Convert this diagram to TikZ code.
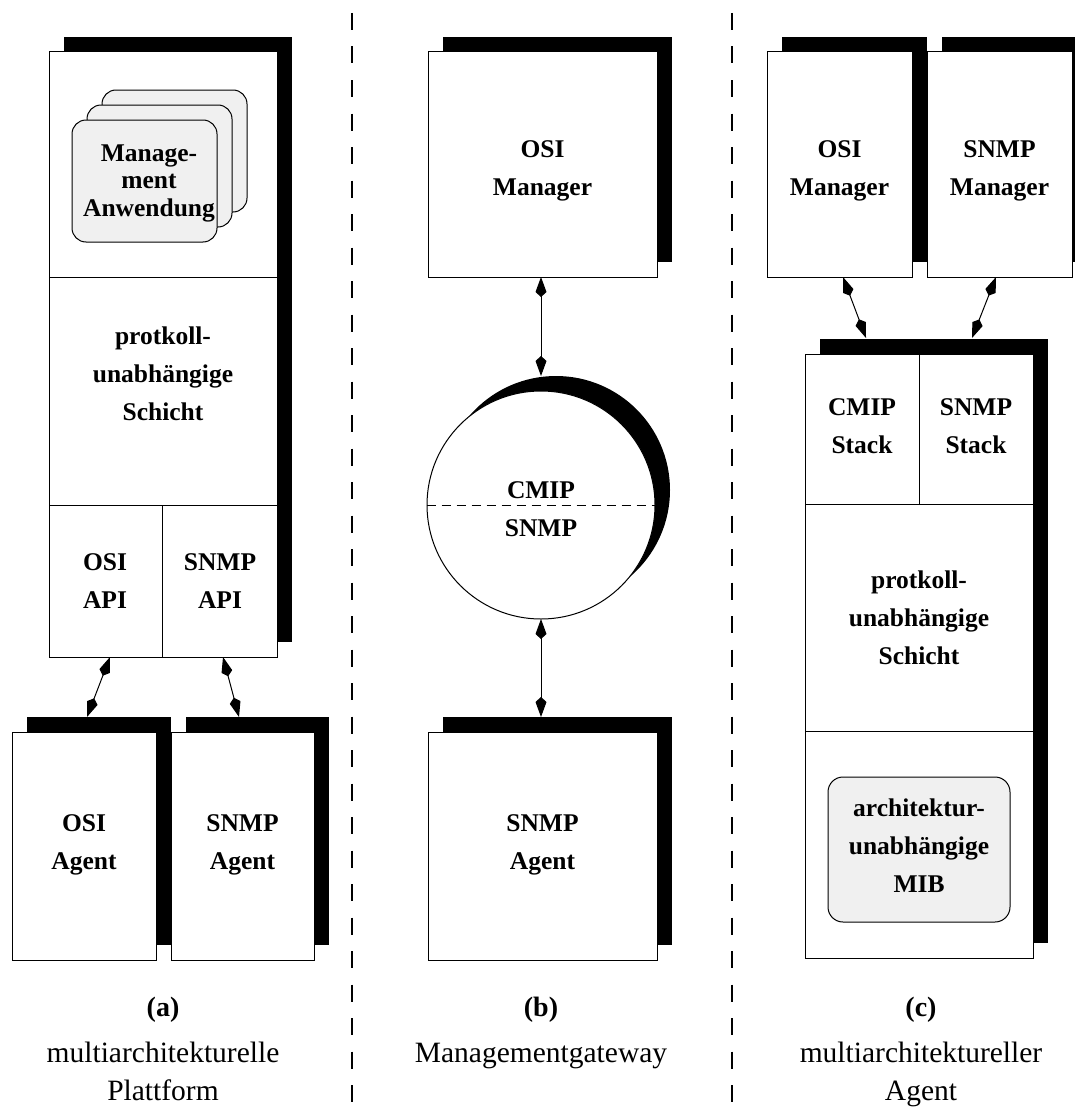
\documentclass[tikz,border=0pt]{standalone}
\usepackage{fontspec}
\setmainfont{Liberation Serif}
\usetikzlibrary{arrows.meta,shadows}

\tikzset{
  shadowbox/.style={draw, fill=white, line width=1pt, inner sep=0pt,
    general shadow={fill=black, shadow xshift=15pt, shadow yshift=15pt}},
  card/.style={draw, fill=black!6, line width=1pt, inner sep=0pt,
    rounded corners=14pt},
  lbl/.style={font=\fontsize{25.5pt}{38pt}\selectfont\bfseries, align=center, inner sep=0pt},
  caption/.style={font=\fontsize{29.5pt}{34pt}\selectfont, inner sep=0pt},
  captag/.style={font=\fontsize{28pt}{30pt}\selectfont\bfseries, inner sep=0pt},
  divider/.style={line width=1pt},
  link/.style={line width=1pt,
    {Kite[length=20pt,width=11pt,inset=5pt]}-{Kite[length=20pt,width=11pt,inset=5pt]}},
  separator/.style={line width=2pt, dash pattern=on 17pt off 16.5pt},
}

\begin{document}
\begin{tikzpicture}[x=1pt,y=-1pt]
\useasboundingbox (0,0) rectangle (1075,1108);

% ---------- (a) multi-architecture platform ----------
\node[shadowbox, minimum width=228pt, minimum height=605pt] (plat) at (163,354.5) {};
\draw[divider] (49,277) -- (277,277);
\draw[divider] (49,505) -- (277,505);
\draw[divider] (162,505) -- (162,657);

\node[card, minimum width=145pt, minimum height=122pt] (app3) at (174.5,151) {};
\node[card, minimum width=145pt, minimum height=122pt] (app2) at (159.5,166) {};
\node[card, minimum width=145pt, minimum height=122pt] (app1) at (144.5,181) {};
\node[lbl, font=\fontsize{25.5pt}{27.5pt}\selectfont\bfseries] (apptext) at (149,183) {Manage-\\ment\\Anwendung};

\node[lbl] (pindep) at (163,374) {protkoll-\\unabhängige\\Schicht};
\node[lbl] (osiapi) at (105,581) {OSI\\API};
\node[lbl] (snmpapi) at (220,581) {SNMP\\API};

\node[shadowbox, minimum width=144pt, minimum height=228pt] (osiag) at (84,846) {};
\node[shadowbox, minimum width=143pt, minimum height=228pt] (snmpag) at (242.5,846) {};
\node[lbl] (osiagtext) at (84,845) {OSI\\Agent};
\node[lbl] (snmpagtext) at (242.5,845) {SNMP\\Agent};

\coordinate (aApiL) at (110,657);
\coordinate (aAgL)  at (87,717);
\coordinate (aApiR) at (223,657);
\coordinate (aAgR)  at (239,717);
\draw[link] (aApiL) -- (aAgL);
\draw[link] (aApiR) -- (aAgR);

\node[captag] (capa) at (163,1010) {(a)};
\node[caption, anchor=base] (capa1) at (163,1062) {multiarchitekturelle};
\node[caption, anchor=base] (capa2) at (163,1100) {Plattform};

% ---------- separators ----------
\draw[separator] (352,13) -- (352,1108);
\draw[separator] (732,13) -- (732,1108);

% ---------- (b) management gateway ----------
\node[shadowbox, minimum width=229pt, minimum height=225pt] (osim) at (542.5,164.5) {};
\node[lbl] (osimtext) at (542.5,171) {OSI\\Manager};

\node[shadowbox, circle, minimum size=228pt] (gw) at (541,505) {};
\draw[line width=1pt, dash pattern=on 9pt off 6pt] (gw.west) -- (gw.east);
\node[lbl, anchor=base] (gwcmip) at (541,498) {CMIP};
\node[lbl, anchor=base] (gwsnmp) at (541,536) {SNMP};

\node[shadowbox, minimum width=229pt, minimum height=228pt] (snmpagb) at (542.5,846) {};
\node[lbl] (snmpagbtext) at (542.5,845) {SNMP\\Agent};

\coordinate (bMgr)  at (541,277);
\coordinate (bGwT)  at (541,376);
\coordinate (bGwB)  at (541,619);
\coordinate (bAg)   at (541,717);
\draw[link] (bMgr) -- (bGwT);
\draw[link] (bGwB) -- (bAg);

\node[captag] (capb) at (541,1010) {(b)};
\node[caption, anchor=base] (capb1) at (541,1062) {Managementgateway};

% ---------- (c) multi-architecture agent ----------
\node[shadowbox, minimum width=145pt, minimum height=225pt] (osimc) at (839.5,164.5) {};
\node[shadowbox, minimum width=145pt, minimum height=225pt] (snmpmc) at (999.5,164.5) {};
\node[lbl] (osimctext) at (839.5,171) {OSI\\Manager};
\node[lbl] (snmpmctext) at (999.5,171) {SNMP\\Manager};

\node[shadowbox, minimum width=228pt, minimum height=604pt] (magent) at (919,656) {};
\draw[divider] (805,504) -- (1033,504);
\draw[divider] (805,731) -- (1033,731);
\draw[divider] (919,354) -- (919,504);

\node[lbl] (cmip) at (862,426) {CMIP\\Stack};
\node[lbl] (snmps) at (976,426) {SNMP\\Stack};
\node[lbl] (cindep) at (919,618) {protkoll-\\unabhängige\\Schicht};

\node[card, rounded corners=15pt, minimum width=182pt, minimum height=145pt] (mib) at (919,849.5) {};
\node[lbl] (mibtext) at (919,846) {architektur-\\unabhängige\\MIB};

\coordinate (cMgrL) at (843,277);
\coordinate (cAgL)  at (866,338);
\coordinate (cMgrR) at (996,277);
\coordinate (cAgR)  at (972,338);
\draw[link] (cMgrL) -- (cAgL);
\draw[link] (cMgrR) -- (cAgR);

\node[captag] (capc) at (921,1010) {(c)};
\node[caption, anchor=base] (capc1) at (921,1062) {multiarchitektureller};
\node[caption, anchor=base] (capc2) at (921,1100) {Agent};
\end{tikzpicture}
\end{document}
